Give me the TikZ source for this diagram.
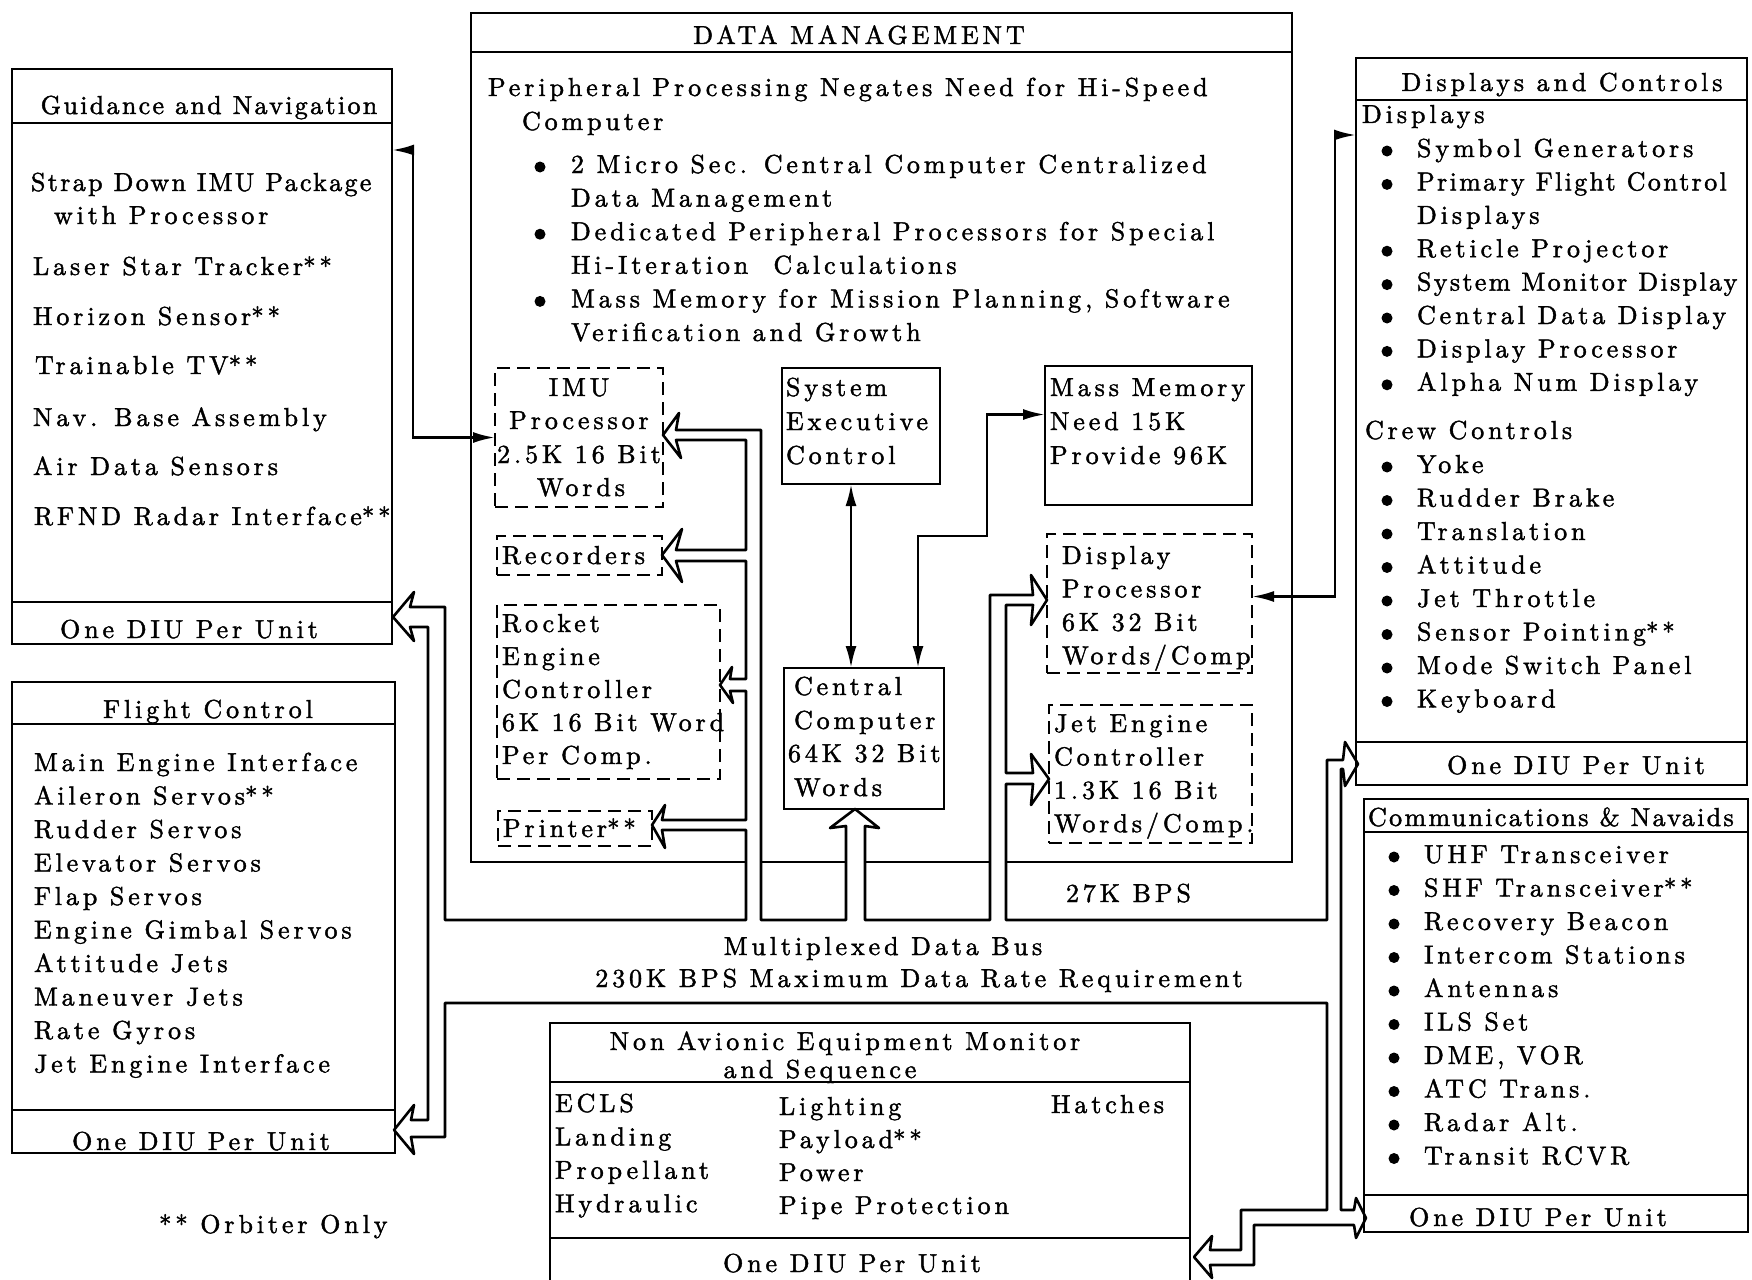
\documentclass[tikz,border=0pt]{standalone}
\usepackage{fontspec}
\newfontfamily\dgfont{lmroman10-regular.otf}[LetterSpace=15,FakeBold=1.6]
\newfontfamily\dgtight{lmroman10-regular.otf}[LetterSpace=9,FakeBold=1.6]
\newcommand\oo{{\fontsize{25}{25}\selectfont**}}
\usetikzlibrary{arrows.meta,fit}

\begin{document}
\begin{tikzpicture}[x=1pt,y=-1pt,
  line/.style={line width=2.6pt},
  box/.style={line, draw, inner sep=0pt, outer sep=0pt},
  dbox/.style={box, dash pattern=on 13pt off 7pt},
  conn/.style={line width=2.6pt, {Latex[length=22pt,width=11pt]}-{Latex[length=22pt,width=11pt]}},
  txt/.style={inner sep=0pt, outer sep=0pt, font=\dgfont\fontsize{26}{33}\selectfont},
  ttl/.style={txt, font=\dgtight\fontsize{26}{33}\selectfont},
  dot/.style={fill=black}]

\useasboundingbox[fill=white] (0,0) rectangle (1752,1279);

% ---------- outer unit boxes ----------
\node[box, fit={(12,69) (392,644)}] (gn) {};
\draw[line] (12,123) -- (392,123);
\draw[line] (12,602) -- (392,602);

\node[box, fit={(12,682) (395,1153)}] (fc) {};
\draw[line] (12,724) -- (395,724);
\draw[line] (12,1110) -- (395,1110);

\node[box, fit={(1356,58) (1747,785)}] (dc) {};
\draw[line] (1356,100) -- (1747,100);
\draw[line] (1356,742) -- (1747,742);

\node[box, fit={(1364,799) (1748,1232)}] (cn) {};
\draw[line] (1364,832) -- (1748,832);
\draw[line] (1364,1195) -- (1748,1195);

\node[inner sep=0pt, outer sep=0pt, fit={(550,1023) (1190,1292)}] (na) {};
\draw[line] (550,1292) -- (550,1023) -- (1190,1023) -- (1190,1292);
\draw[line] (550,1082) -- (1190,1082);
\draw[line] (550,1238) -- (1190,1238);

% ---------- data management frame (bottom edge opened by the bus) ----------
\node[inner sep=0pt, outer sep=0pt, fit={(471,13) (1292,862)}] (dm) {};
\draw[line] (746,862) -- (471,862) -- (471,13) -- (1292,13) -- (1292,862) -- (1006,862);
\draw[line] (761,862) -- (846,862);
\draw[line] (865,862) -- (990,862);
\draw[line] (471,52) -- (1292,52);

% ---------- inner boxes ----------
\node[dbox, fit={(495,368) (663,507)}] (imu) {};
\node[dbox, fit={(497,536) (662,575)}] (rcd) {};
\node[dbox, fit={(497,605) (720,779)}] (rkt) {};
\node[dbox, fit={(498,811) (652,846)}] (prn) {};
\node[box, fit={(782,368) (940,484)}] (sec) {};
\node[box, fit={(784,668) (944,809)}] (cc) {};
\node[box, fit={(1045,366) (1252,505)}] (mm) {};
\node[dbox, fit={(1047,534) (1252,673)}] (dp) {};
\node[dbox, fit={(1049,705) (1252,843)}] (jec) {};

% ---------- multiplexed data bus (double-line channel with open heads) ----------
\draw[line, line join=round]
  (1341,769) -- (1343,769) -- (1345,786) -- (1358,764) -- (1345,742) -- (1343,760)
  -- (1327,760) -- (1327,920) -- (1006,920)
  -- (1006,784) -- (1033,784) -- (1031,805) -- (1049,779) -- (1031,754) -- (1033,773) -- (1006,773)
  -- (1006,605) -- (1033,605) -- (1031,625) -- (1047,600) -- (1031,575) -- (1033,595) -- (990,595)
  -- (990,920) -- (865,920)
  -- (865,826) -- (879,828) -- (855,809) -- (830,828) -- (846,826)
  -- (846,920) -- (761,920)
  -- (761,430) -- (676,430) -- (679,413) -- (663,435) -- (681,458) -- (676,440) -- (746,440)
  -- (746,550) -- (676,550) -- (682,529) -- (662,555) -- (682,582) -- (676,561) -- (746,561)
  -- (746,679) -- (730,679) -- (732,667) -- (720,685) -- (733,703) -- (730,691) -- (746,691)
  -- (746,820) -- (662,820) -- (665,805) -- (652,825) -- (665,848) -- (662,830) -- (746,830)
  -- (746,920) -- (445,920)
  -- (445,607) -- (410,607) -- (414,592) -- (393,617) -- (414,641) -- (410,627) -- (428,627)
  -- (428,1120) -- (411,1120) -- (414,1105) -- (394,1130) -- (414,1154) -- (411,1137) -- (445,1137)
  -- (445,1003) -- (1327,1003) -- (1327,1210) -- (1241,1210) -- (1241,1250)
  -- (1210,1250) -- (1212,1236) -- (1194,1257) -- (1212,1278) -- (1210,1265)
  -- (1254,1265) -- (1254,1225) -- (1354,1225) -- (1356,1238) -- (1366,1218) -- (1356,1198) -- (1354,1210)
  -- (1341,1210) -- cycle;

% ---------- point-to-point links ----------
\coordinate (gnport) at (392,150);
\draw[conn] (gnport) -- (413,150) |- (imu.west);
\draw[conn] ([xshift=-10pt]sec.south) -- ([xshift=-10pt]sec.south |- cc.north);
\draw[conn] ([xshift=-26pt]cc.north east) |- (987,536) |- ([yshift=21pt]mm.west);
\draw[conn] ([yshift=7pt]dp.east) -| ([xshift=-21pt,yshift=-77pt]dc.north west) -- ([yshift=-77pt]dc.north west);

% ---------- Guidance and Navigation ----------
\node[ttl, anchor=base] (gnt) at (209,114) {Guidance and Navigation};
\node[ttl, anchor=base west] (gn1) at (31,191) {Strap Down IMU Package};
\node[txt, anchor=base west] (gn2) at (54,224) {with Processor};
\node[txt, anchor=base west] (gn3) at (33,275) {Laser Star Tracker\oo};
\node[txt, anchor=base west] (gn4) at (33,325) {Horizon Sensor\oo};
\node[txt, anchor=base west] (gn5) at (35,374) {Trainable TV\oo};
\node[txt, anchor=base west] (gn6) at (33,426) {Nav. Base Assembly};
\node[txt, anchor=base west] (gn7) at (33,475) {Air Data Sensors};
\node[txt, anchor=base west] (gn8) at (34,525) {RFND Radar Interface\oo};
\node[txt, anchor=base] (gnd) at (189,638) {One DIU Per Unit};

% ---------- Flight Control ----------
\node[txt, anchor=base] (fct) at (208,718) {Flight Control};
\foreach \t [count=\i] in {Main Engine Interface, Aileron Servos\oo, Rudder Servos,
  Elevator Servos, Flap Servos, Engine Gimbal Servos, Attitude Jets, Maneuver Jets,
  Rate Gyros, Jet Engine Interface}
  \node[txt, anchor=base west] (fc\i) at (34,{771+(\i-1)*33.5}) {\t};
\node[txt, anchor=base] (fcd) at (201,1150) {One DIU Per Unit};

\node[txt, anchor=base west] (note) at (159,1233) {\oo\ Orbiter Only};

% ---------- Data Management ----------
\node[txt, anchor=base] (dmt) at (859,44) {DATA MANAGEMENT};
\node[txt, anchor=base west] (dm0) at (488,96) {Peripheral Processing Negates Need for Hi-Speed};
\node[txt, anchor=base west] (dm0b) at (522,130) {Computer};
\foreach \t [count=\i] in {2 Micro Sec. Central Computer Centralized, Data Management,
  Dedicated Peripheral Processors for Special, Hi-Iteration\ \ Calculations,
  {Mass Memory for Mission Planning, Software}, Verification and Growth}
  \node[txt, anchor=base west] (dm\i) at (571,{173+(\i-1)*33.6}) {\t};
\foreach \i in {0,2,4}
  \fill[dot] (540,{167+\i*33.6}) circle (5.5pt);

\node[txt, anchor=base] (imu1) at (579,396) {IMU};
\node[txt, anchor=base] (imu2) at (579,429) {Processor};
\node[txt, anchor=base] (imu3) at (579,463) {2.5K 16 Bit};
\node[txt, anchor=base] (imu4) at (581,496) {Words};

\node[txt, anchor=base west] (rcd1) at (502,564) {Recorders};

\foreach \t [count=\i] in {Rocket, Engine, Controller, 6K 16 Bit Word, Per Comp.}
  \node[txt, anchor=base west] (rkt\i) at (502,{632+(\i-1)*33}) {\t};

\node[txt, anchor=base west] (prn1) at (503,837) {Printer\oo};

\foreach \t [count=\i] in {System, Executive, Control}
  \node[txt, anchor=base west] (sec\i) at (786,{396+(\i-1)*34}) {\t};

\node[txt, anchor=base west] (cc1) at (794,695) {Central};
\node[txt, anchor=base west] (cc2) at (794,729) {Computer};
\node[txt, anchor=base west] (cc3) at (788,762) {64K 32 Bit};
\node[txt, anchor=base west] (cc4) at (794,796) {Words};

\foreach \t [count=\i] in {Mass Memory, Need 15K, Provide 96K}
  \node[txt, anchor=base west] (mm\i) at (1050,{396+(\i-1)*34}) {\t};

\foreach \t [count=\i] in {Display, Processor, 6K 32 Bit, Words/Comp}
  \node[txt, anchor=base west] (dp\i) at (1062,{564+(\i-1)*33.4}) {\t};

\foreach \t [count=\i] in {Jet Engine, Controller, 1.3K 16 Bit, Words/Comp.}
  \node[txt, anchor=base west] (jec\i) at (1054,{732+(\i-1)*33.4}) {\t};

\node[txt, anchor=base west] (bps) at (1066,902) {27K BPS};
\node[txt, anchor=base] (bus1) at (883,955) {Multiplexed Data Bus};
\node[txt, anchor=base] (bus2) at (919,987) {230K BPS Maximum Data Rate Requirement};

% ---------- Displays and Controls ----------
\node[txt, anchor=base] (dct) at (1562,91) {Displays and Controls};
\node[txt, anchor=base west] (dch1) at (1362,123) {Displays};
\foreach \t/\b/\s [count=\i] in {Symbol Generators/1/txt, Primary Flight Control/1/ttl,
  Displays/0/txt, Reticle Projector/1/txt, System Monitor Display/1/ttl,
  Central Data Display/1/txt, Display Processor/1/txt, Alpha Num Display/1/txt}
  {\node[\s, anchor=base west] (dcd\i) at (1417,{157+(\i-1)*33.4}) {\t};
   \ifnum\b=1 \fill[dot] (1387,{151+(\i-1)*33.4}) circle (5.5pt);\fi}
\node[txt, anchor=base west] (dch2) at (1365,439) {Crew Controls};
\foreach \t [count=\i] in {Yoke, Rudder Brake, Translation, Attitude, Jet Throttle,
  Sensor Pointing\oo, Mode Switch Panel, Keyboard}
  {\node[txt, anchor=base west] (dcc\i) at (1417,{473+(\i-1)*33.5}) {\t};
   \fill[dot] (1387,{467+(\i-1)*33.5}) circle (5.5pt);}
\node[txt, anchor=base] (dcdiu) at (1576,774) {One DIU Per Unit};

% ---------- Communications & Navaids ----------
\node[ttl, anchor=base west] (cnt) at (1368,826) {Communications \& Navaids};
\foreach \t [count=\i] in {UHF Transceiver, SHF Transceiver\oo, Recovery Beacon,
  Intercom Stations, Antennas, ILS Set, {DME, VOR}, ATC Trans., Radar Alt., Transit RCVR}
  {\node[txt, anchor=base west] (cn\i) at (1424,{863+(\i-1)*33.5}) {\t};
   \fill[dot] (1394,{857+(\i-1)*33.5}) circle (5.5pt);}
\node[txt, anchor=base] (cnd) at (1538,1226) {One DIU Per Unit};

% ---------- Non Avionic Equipment Monitor and Sequence ----------
\node[txt, anchor=base] (nat1) at (845,1050) {Non Avionic Equipment Monitor};
\node[txt, anchor=base] (nat2) at (820,1078) {and Sequence};
\foreach \t [count=\i] in {ECLS, Landing, Propellant, Hydraulic}
  \node[txt, anchor=base west] (naa\i) at (555,{1112+(\i-1)*33.4}) {\t};
\foreach \t [count=\i] in {Lighting, Payload\oo, Power, Pipe Protection}
  \node[txt, anchor=base west] (nab\i) at (779,{1115+(\i-1)*33}) {\t};
\node[txt, anchor=base west] (nac1) at (1051,1113) {Hatches};
\node[txt, anchor=base] (nad) at (852,1272) {One DIU Per Unit};

\end{tikzpicture}
\end{document}
